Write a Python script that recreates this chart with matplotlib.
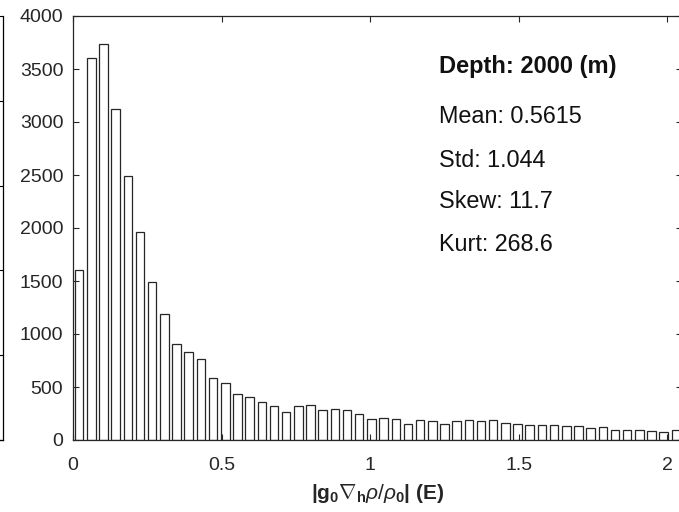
import numpy as np
import matplotlib
matplotlib.use("Agg")
import matplotlib.pyplot as plt

plt.rcParams['font.family'] = ['Liberation Sans', 'DejaVu Sans']
plt.rcParams['mathtext.fontset'] = 'custom'
plt.rcParams['mathtext.rm'] = 'Liberation Sans'
plt.rcParams['mathtext.bf'] = 'Liberation Sans:bold'
plt.rcParams['mathtext.it'] = 'Liberation Sans:italic'

# ---- data ----
bin_width = 0.041
counts = [1604, 3607, 3736, 3123, 2491, 1959, 1494, 1189, 906, 833,
          761, 582, 540, 434, 401, 362, 320, 267, 325, 330,
          285, 289, 285, 245, 201, 212, 196, 148, 192, 182,
          154, 182, 192, 176, 190, 157, 148, 145, 144, 142,
          135, 134, 115, 120, 91, 95, 94, 88, 74, 94]
xticks = [0, 0.5, 1, 1.5, 2]
xticklabels = ['0', '0.5', '1', '1.5', '2']
yticks = [0, 500, 1000, 1500, 2000, 2500, 3000, 3500, 4000]
title_text = 'Depth: 2000 (m)'
stats_text = ['Mean: 0.5615', 'Std: 1.044', 'Skew: 11.7', 'Kurt: 268.6']

centers = (np.arange(len(counts)) + 0.5) * bin_width

W, H = 679, 512
fig = plt.figure(figsize=(W / 100, H / 100), dpi=100)

# neighbouring (cropped) subplot on the left
axn = fig.add_axes([(2.5 - 100) / W, (H - 440) / H, 100 / W, (440 - 16) / H])
axn.set_xlim(0, 1)
axn.set_ylim(0, 5)
for s in ['left', 'top']:
    axn.spines[s].set_visible(False)
axn.spines['right'].set_linewidth(0.9)
axn.spines['bottom'].set_linewidth(0.9)
axn.yaxis.tick_right()
axn.set_yticks([0, 1, 2, 3, 4, 5])
axn.set_yticklabels([])
axn.set_xticks([])
axn.tick_params(axis='y', direction='in', length=4, width=0.8)

# main axes
ax = fig.add_axes([73 / W, (H - 440) / H, (682 - 73) / W, (440 - 16) / H])
ax.bar(centers, counts, width=bin_width * 0.7, color='white',
       edgecolor='#262626', linewidth=0.9)
ax.set_xlim(0, 2.05)
ax.set_ylim(0, 4000)
ax.set_xticks(xticks)
ax.set_xticklabels(xticklabels)
ax.set_yticks(yticks)
ax.tick_params(axis='both', direction='in', length=4.5, width=0.8,
               top=True, right=True, labelsize=14, colors='#262626')
ax.tick_params(axis='x', pad=12)
ax.tick_params(axis='y', pad=7)
for s in ax.spines.values():
    s.set_linewidth(0.9)
    s.set_color('#262626')

ax.set_xlabel(r'$\mathbf{|g_0}\nabla_\mathbf{h}\rho/\rho_\mathbf{0}\mathbf{|\ (E)}$',
              fontsize=15, labelpad=6, color='#262626')

ax.text(1.232, 3465, title_text, fontsize=17, fontweight='bold',
        va='baseline', ha='left', color='#111111')
for s, yb in zip(stats_text, [2988, 2578, 2186, 1786]):
    ax.text(1.232, yb, s, fontsize=16.8, va='baseline', ha='left',
            color='#111111')

fig.savefig('out.png', dpi=100)
